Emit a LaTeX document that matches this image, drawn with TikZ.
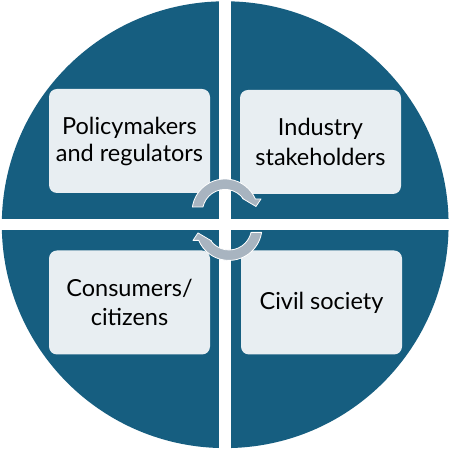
\documentclass[tikz,border=0pt]{standalone}
\usepackage{fontspec}
\setmainfont{Lato}
\usetikzlibrary{calc}
\definecolor{qblue}{HTML}{165E80}
\definecolor{boxfill}{HTML}{E8EEF2}
\definecolor{arrgray}{HTML}{A8B4C0}
\tikzset{
  quadbox/.style={fill=boxfill, rounded corners=8pt, minimum width=161pt, minimum height=104pt, inner sep=0pt, align=center, font=\fontsize{23.5}{27}\selectfont, text=black},
  widebox/.style={quadbox, font=\fontsize{23.5}{29.5}\selectfont},
  cyclearrow/.style={fill=arrgray, draw=white, line width=0.8pt, line join=round}
}
\newcommand{\cyclearrowpath}{%
  \coordinate (cu) at (225,237);
  \path[cyclearrow] ($(cu)+(171.3:33pt)$) arc[start angle=171.3, end angle=23.2, radius=33pt]
    -- (261,250) -- (256,242.5) -- (242.5,250.5)
    -- ($(cu)+(35.1:22.6pt)$) arc[start angle=35.1, end angle=167.2, radius=22.6pt] -- cycle;}
\begin{document}
\begin{tikzpicture}[x=1pt,y=1pt]
\useasboundingbox (0,0) rectangle (450,449);
\fill[white] (0,0) rectangle (450,449);
% disc
\fill[qblue] (225.2,224.3) circle[radius=223.4pt];
% white cross
\fill[white] (219,0) rectangle (231,449);
\fill[white] (0,219) rectangle (450,230);
% boxes
\node[quadbox] (pol) at (129.5,308) {Policymakers\\and regulators};
\node[widebox] (ind) at (320.5,307) {Industry\\stakeholders};
\node[widebox] (con) at (129.5,146.5) {Consumers/\\citizens};
\node[quadbox] (civ) at (321.5,146.5) {Civil society};
% cycle arrows
\begin{scope}
\cyclearrowpath
\end{scope}
\begin{scope}[rotate around={180:(227,229.3)}]
\cyclearrowpath
\end{scope}
\end{tikzpicture}
\end{document}
